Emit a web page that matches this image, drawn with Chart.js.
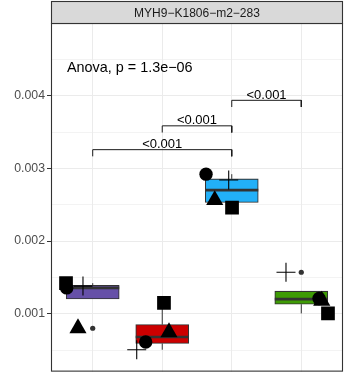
<!DOCTYPE html>
<html><head><meta charset="utf-8">
<script src="https://cdn.jsdelivr.net/npm/chart.js@4/dist/chart.umd.min.js"></script>
<style>html,body{margin:0;padding:0;background:#fff}canvas{display:block}</style>
</head><body>
<canvas id="c" width="355" height="381"></canvas>
<script>
// ---------- data ----------
const panelTitle = 'MYH9−K1806−m2−283';
const anovaLabel = 'Anova, p = 1.3e−06';
const anovaPos = [0.63, 0.00432];            // x (group units), y (value)
const groups = [1, 2, 3, 4];
const boxColors = ['#6650A8', '#CC0000', '#22B0F8', '#3E9B05'];
const q1 = [0.001203, 0.00059, 0.00253, 0.00113];
const median = [0.001355, 0.00068, 0.0027, 0.0012];
const q3 = [0.001392, 0.00085, 0.002855, 0.00131];
const whiskerLow = [0.001203, 0.000504, 0.00246, 0.001004];
const whiskerHigh = [0.00142, 0.00115, 0.00292, 0.00131];
const outlierX = [1, 4];
const outlierY = [0.0008, 0.00157];
// replicate points (shape = replicate), jittered x in group units
const circleX = [0.626, 1.762, 2.63, 4.255];
const circleY = [0.001355, 0.00061, 0.00292, 0.00121];
const triangleX = [0.788, 2.097, 2.755, 4.294];
const triangleY = [0.0008, 0.000745, 0.002563, 0.001178];
const squareX = [0.616, 2.025, 3.004, 4.384];
const squareY = [0.00142, 0.00115, 0.00246, 0.001004];
const plusX = [0.86, 1.633, 2.956, 3.78];
const plusY = [0.00138, 0.000504, 0.00284, 0.00157];
// pairwise comparisons
const bracketFrom = [1, 2, 3];
const bracketTo = [3, 3, 4];
const bracketY = [0.003257, 0.003585, 0.003936];
const bracketLabels = ['<0.001', '<0.001', '<0.001'];
// axis ticks
const yMajorTicks = [0.001, 0.002, 0.003, 0.004];
const yMinorTicks = [0.0005, 0.0015, 0.0025, 0.0035, 0.0045];
const yTickLabels = ['0.001', '0.002', '0.003', '0.004'];

// ---------- styles ----------
const FONT = '"Liberation Sans", Arial, Helvetica, sans-serif';
const TIP = 0.000092;
const DARK = '#333333';

const pts = (xs, ys) => xs.map((v, i) => ({x: v, y: ys[i]}));

const datasets = [];
// boxes
datasets.push({
  type: 'bar', order: 6, grouped: false,
  data: groups.map((g, i) => ({x: g, y: [q1[i], q3[i]]})),
  backgroundColor: boxColors, borderColor: DARK, borderWidth: 1.1,
  borderSkipped: false, barThickness: 53
});
// whiskers
groups.forEach((g, i) => {
  [[whiskerLow[i], q1[i]], [q3[i], whiskerHigh[i]]].forEach(seg => {
    if (Math.abs(seg[1] - seg[0]) < 1e-9) return;
    datasets.push({type: 'line', order: 7, data: [{x: g, y: seg[0]}, {x: g, y: seg[1]}],
      borderColor: DARK, borderWidth: 1, pointRadius: 0});
  });
});
// medians
datasets.push({type: 'scatter', order: 5, data: pts(groups, median),
  pointStyle: 'line', pointRadius: 26.5, pointBorderWidth: 2.6, pointBorderColor: DARK});
// brackets
bracketY.forEach((yv, i) => {
  datasets.push({type: 'line', order: 4,
    data: [{x: bracketFrom[i], y: yv - TIP}, {x: bracketFrom[i], y: yv}, {x: bracketTo[i], y: yv}, {x: bracketTo[i], y: yv - TIP}],
    borderColor: '#1a1a1a', borderWidth: 1, pointRadius: 0, tension: 0});
});
// outliers
datasets.push({type: 'scatter', order: 3, data: pts(outlierX, outlierY),
  pointStyle: 'circle', pointRadius: 2.6, pointBackgroundColor: DARK, pointBorderWidth: 0});
// replicate points
datasets.push({type: 'scatter', order: 2, data: pts(circleX, circleY),
  pointStyle: 'circle', pointRadius: 6.7, pointBackgroundColor: '#000', pointBorderWidth: 0});
datasets.push({type: 'scatter', order: 2, data: pts(triangleX, triangleY),
  pointStyle: 'triangle', pointRadius: 9.9, pointBackgroundColor: '#000', pointBorderWidth: 0});
datasets.push({type: 'scatter', order: 2, data: pts(squareX, squareY),
  pointStyle: 'rect', pointRadius: 9.7, pointBackgroundColor: '#000', pointBorderWidth: 0});
datasets.push({type: 'scatter', order: 1, data: pts(plusX, plusY),
  pointStyle: 'cross', pointRadius: 9.5, pointBorderColor: '#000', pointBorderWidth: 1.1});

const isMajor = v => yMajorTicks.some(m => Math.abs(m - v) < 1e-9);

const overlay = {
  id: 'overlay',
  afterDatasetsDraw(chart) {
    const {ctx, chartArea: a, scales: {x, y}} = chart;
    ctx.save();
    // bracket labels
    ctx.fillStyle = '#000';
    ctx.font = '13px ' + FONT;
    ctx.textAlign = 'center';
    ctx.textBaseline = 'alphabetic';
    bracketLabels.forEach((t, i) => {
      const px = x.getPixelForValue((bracketFrom[i] + bracketTo[i]) / 2);
      const py = y.getPixelForValue(bracketY[i]);
      ctx.fillText(t, px, py - 1.5);
    });
    // anova label
    ctx.textAlign = 'left';
    ctx.font = '14.4px ' + FONT;
    ctx.fillText(anovaLabel, x.getPixelForValue(anovaPos[0]), y.getPixelForValue(anovaPos[1]));
    // panel border
    ctx.strokeStyle = DARK;
    ctx.lineWidth = 1.1;
    ctx.strokeRect(a.left + 0.5, a.top + 0.5, a.right - a.left - 1, a.bottom - a.top - 1);
    // strip
    ctx.fillStyle = '#D9D9D9';
    ctx.fillRect(a.left + 0.5, 1.5, a.right - a.left - 1, a.top - 1);
    ctx.strokeRect(a.left + 0.5, 1.5, a.right - a.left - 1, a.top - 1);
    ctx.fillStyle = '#1A1A1A';
    ctx.font = '12px ' + FONT;
    ctx.textAlign = 'center';
    ctx.textBaseline = 'middle';
    ctx.fillText(panelTitle, (a.left + a.right) / 2, (1.5 + a.top) / 2 + 1);
    ctx.restore();
  }
};

new Chart(document.getElementById('c'), {
  type: 'bar',
  data: {datasets},
  options: {
    responsive: false, animation: false, events: [],
    layout: {autoPadding: false, padding: {top: 23, bottom: 3, right: 12, left: 0}},
    plugins: {legend: {display: false}, tooltip: {enabled: false}, title: {display: false}},
    scales: {
      x: {
        type: 'linear', min: 0.4, max: 4.6, offset: false,
        afterBuildTicks: s => { s.ticks = groups.map(v => ({value: v})); },
        afterFit: s => { s.height = 0; },
        ticks: {display: false},
        border: {display: false},
        grid: {color: '#EBEBEB', lineWidth: 1, drawTicks: false, offset: false}
      },
      y: {
        type: 'linear', min: 0.000203, max: 0.005,
        afterBuildTicks: s => {
          s.ticks = yMajorTicks.concat(yMinorTicks).sort((a, b) => a - b).map(v => ({value: v}));
        },
        afterFit: s => { s.width = 51; },
        border: {display: false},
        ticks: {
          color: '#4D4D4D', padding: 2, font: {family: FONT, size: 12.3},
          autoSkip: false,
          callback: v => { const k = yMajorTicks.findIndex(m => Math.abs(m - v) < 1e-9); return k >= 0 ? yTickLabels[k] : ''; }
        },
        grid: {
          color: '#EBEBEB',
          lineWidth: c => isMajor(c.tick.value) ? 1 : 0.6,
          tickLength: 4,
          tickColor: c => isMajor(c.tick.value) ? DARK : 'rgba(0,0,0,0)',
          tickWidth: 1
        }
      }
    }
  },
  plugins: [overlay]
});
</script>
</body></html>
